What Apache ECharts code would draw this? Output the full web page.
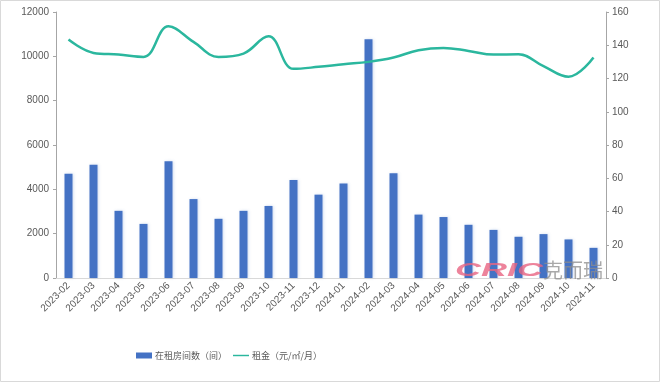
<!DOCTYPE html>
<html><head><meta charset="utf-8">
<script src="https://cdn.jsdelivr.net/npm/echarts@6/dist/echarts.min.js"></script>
<style>html,body{margin:0;padding:0;background:#fff}#c{width:660px;height:382px}</style>
</head><body><div id="c"></div>
<script>
const categories = ['2023-02','2023-03','2023-04','2023-05','2023-06','2023-07','2023-08','2023-09','2023-10','2023-11','2023-12','2024-01','2024-02','2024-03','2024-04','2024-05','2024-06','2024-07','2024-08','2024-09','2024-10','2024-11'];
const rooms = [4700,5110,3030,2440,5270,3560,2670,3030,3250,4420,3760,4260,10770,4730,2860,2750,2400,2170,1860,1980,1740,1360];
const rent = [143.4,135.4,134.4,133,151.4,142,133,135,145.4,125.8,127,128.6,130,132.6,137,138.4,136.6,134.4,134.6,127.4,121,132.6];
const leftTicks = [0,2000,4000,6000,8000,10000,12000];
const rightTicks = [0,20,40,60,80,100,120,140,160];

const chart = echarts.init(document.getElementById('c'));
const axisLabel = {color:'#595959', fontSize:10, fontFamily:'Liberation Sans, Arial, sans-serif'};
chart.setOption({
  animation:false,
  grid:{left:56, right:54, top:12, bottom:104, containLabel:false},
  legend:{
    left:131, top:346, itemWidth:16, itemHeight:6, itemGap:6,
    textStyle:{color:'#595959', fontSize:9, fontFamily:'Noto Sans CJK SC, sans-serif', padding:[0,0,0,-2]},
    data:[
      {name:'在租房间数（间）', icon:'rect'},
      {name:'租金（元/㎡/月）', icon:'path://M0,0 L0,0 M0,2 L22,2 L22,4 L0,4 Z M22,6 L22,6', itemStyle:{color:'#2BB79E'}}
    ]
  },
  xAxis:{
    type:'category', data:categories, boundaryGap:true,
    axisLine:{lineStyle:{color:'#d9d9d9'}}, axisTick:{show:false},
    axisLabel:Object.assign({}, axisLabel, {rotate:45, interval:0, margin:6})
  },
  yAxis:[
    {type:'value', min:leftTicks[0], max:leftTicks[leftTicks.length-1], interval:2000,
     splitLine:{show:false}, axisLine:{show:true, lineStyle:{color:'#a6a6a6'}},
     axisTick:{show:true, length:3, lineStyle:{color:'#a6a6a6'}},
     axisLabel:Object.assign({}, axisLabel, {margin:7, formatter:v=>String(v)})},
    {type:'value', min:rightTicks[0], max:rightTicks[rightTicks.length-1], interval:20,
     splitLine:{show:false}, axisLine:{show:true, lineStyle:{color:'#a6a6a6'}},
     axisTick:{show:true, length:3, lineStyle:{color:'#a6a6a6'}},
     axisLabel:Object.assign({}, axisLabel, {margin:6, formatter:v=>String(v)})}
  ],
  series:[
    {name:'在租房间数（间）', type:'bar', data:rooms, barWidth:8, yAxisIndex:0,
     itemStyle:{color:'#4472C4', shadowColor:'rgba(68,114,196,0.25)', shadowBlur:3, shadowOffsetX:1}},
    {name:'租金（元/㎡/月）', type:'line', data:rent, yAxisIndex:1, smooth:0.4, symbol:'none',
     lineStyle:{color:'#2BB79E', width:2.5}, itemStyle:{color:'#2BB79E'}}
  ],
  graphic:[
    {type:'rect', shape:{x:0.5,y:0.5,width:659,height:381}, style:{fill:'none', stroke:'#d9d9d9', lineWidth:1}, silent:true},
    {type:'text', x:455, y:262, scaleX:2.0, z:10, silent:true,
     style:{text:'CRIC', fill:'rgba(232,100,130,0.8)', font:'italic bold 18px Liberation Sans, sans-serif'}},
    {type:'text', x:543, y:260, z:10, silent:true,
     style:{text:'克而瑞', fill:'rgba(140,140,140,0.75)', font:'20px Noto Sans CJK SC, sans-serif'}}
  ]
});
</script></body></html>
